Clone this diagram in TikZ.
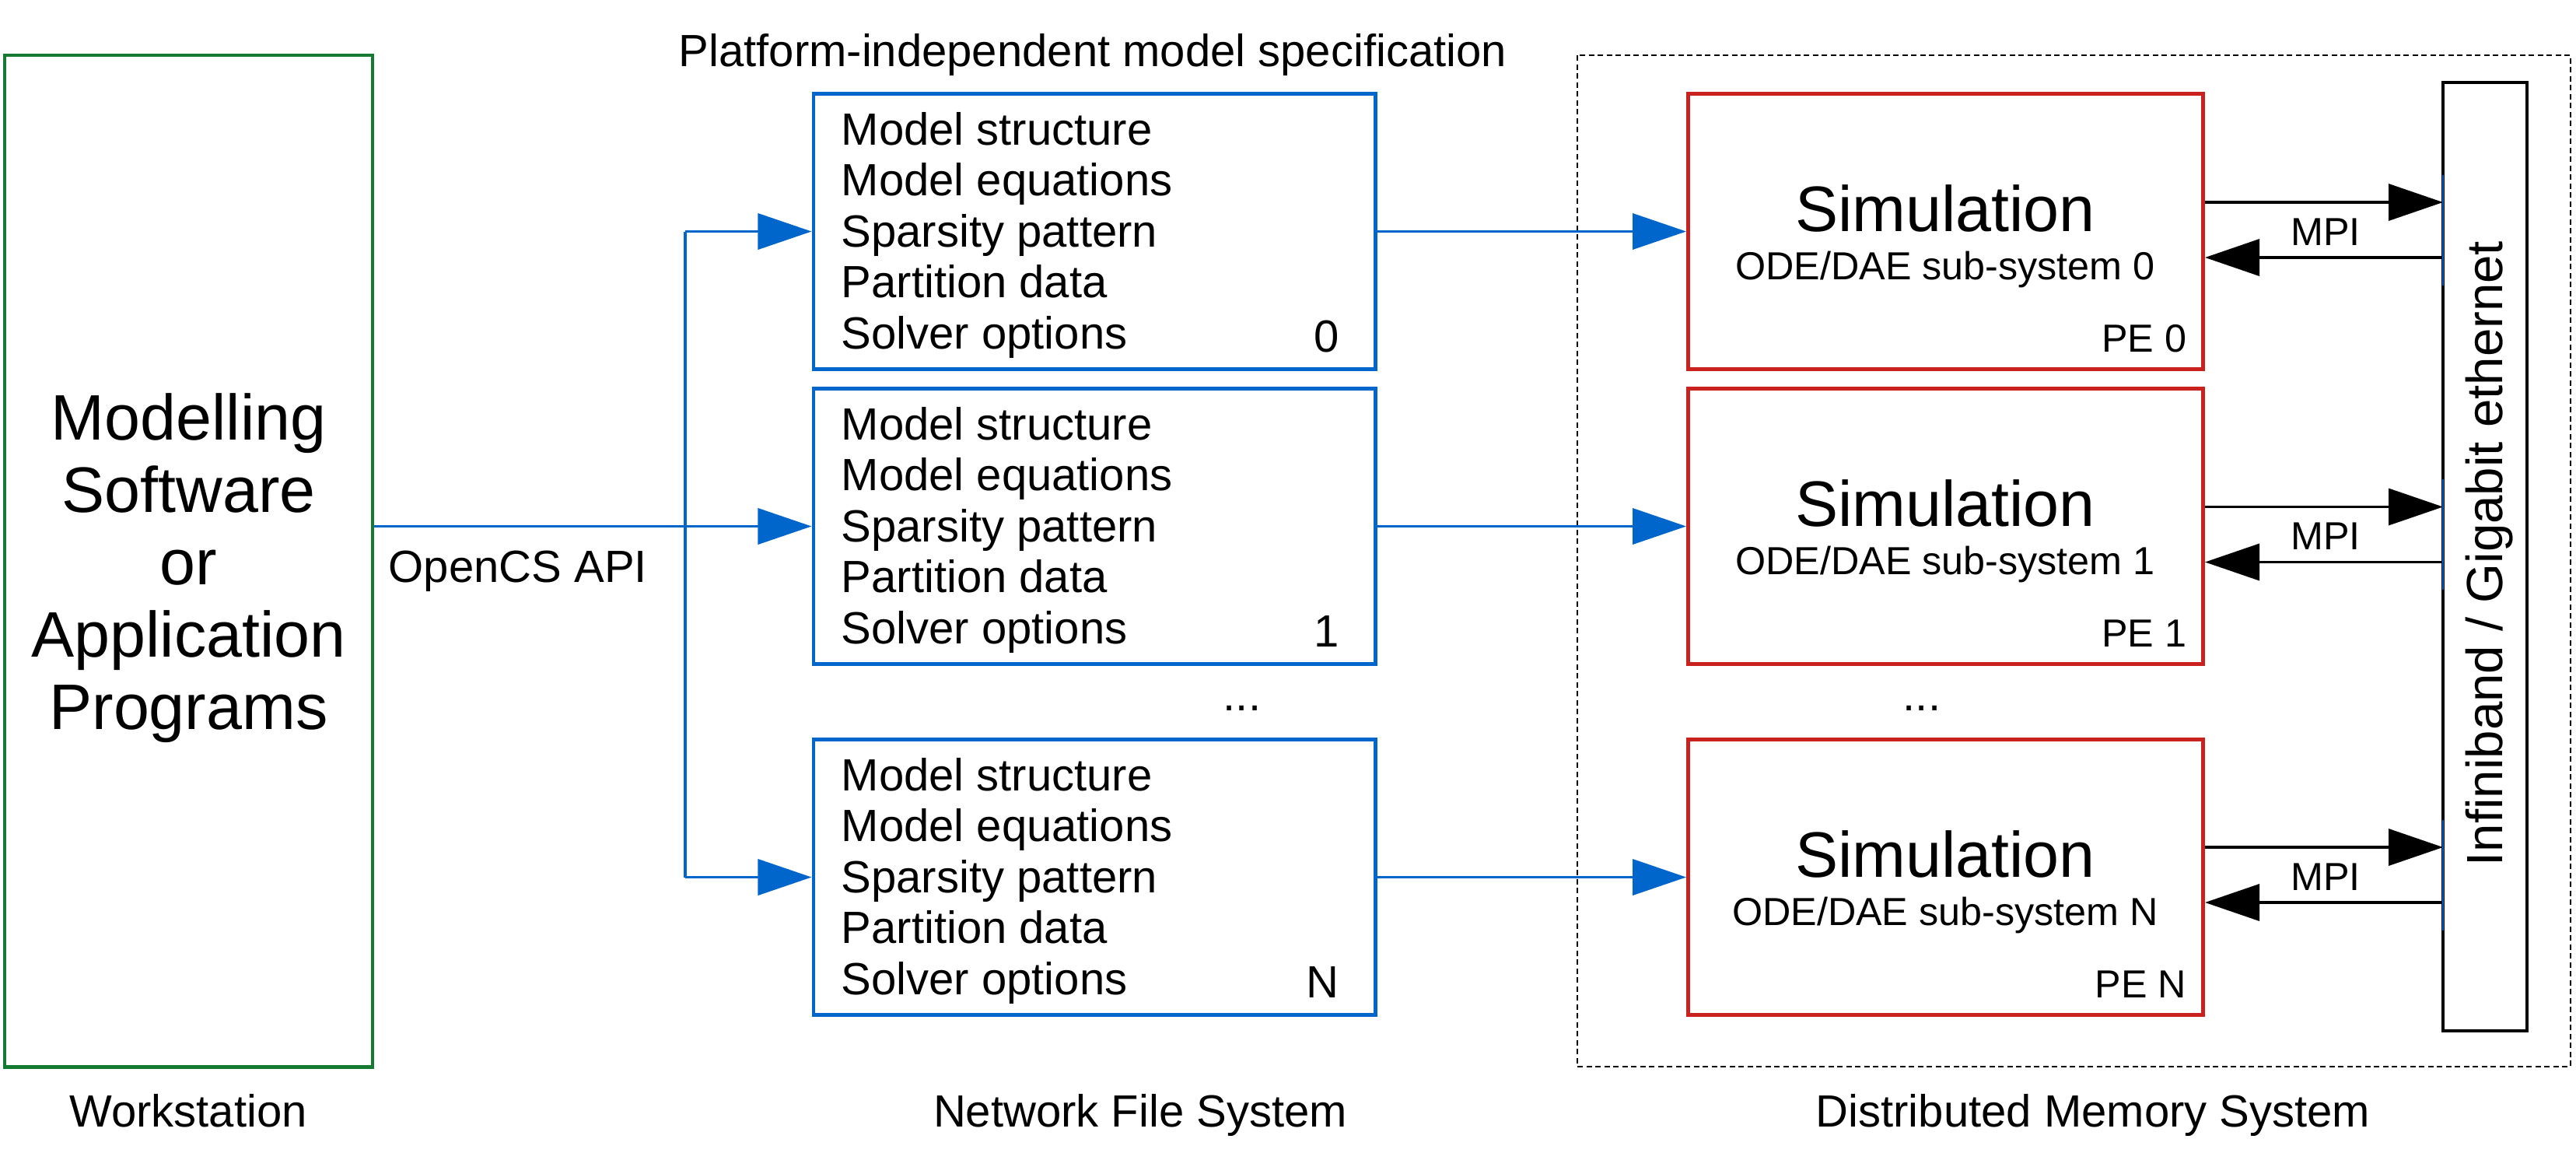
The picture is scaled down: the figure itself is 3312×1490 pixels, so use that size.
\documentclass[tikz,border=0pt]{standalone}
\usepackage{fontspec}
\setmainfont{Liberation Sans}
\usetikzlibrary{arrows.meta}
\definecolor{wsgreen}{RGB}{20,122,50}
\definecolor{nfsblue}{RGB}{0,102,204}
\definecolor{pered}{RGB}{201,33,30}
\begin{document}
\begin{tikzpicture}[x=0.01cm,y=-0.01cm]
        \tikzstyle{station}=[draw=wsgreen,line width=1.2pt,minimum width=4.73cm,minimum height=13cm,inner sep=0]
        \tikzstyle{spec}=[draw=nfsblue,line width=1.3pt,minimum width=7.22cm,minimum height=3.54cm,inner sep=0]
        \tikzstyle{simbox}=[draw=pered,line width=1.3pt,minimum width=6.62cm,minimum height=3.54cm,inner sep=0]
        \tikzstyle{bus}=[draw=black,line width=1.1pt,minimum width=1.08cm,minimum height=12.19cm,inner sep=0]
        \tikzstyle{textlabel}=[inner sep=0,font=\fontsize{16.5}{18.64}\selectfont]
        \tikzstyle{bigtext}=[inner sep=0,font=\fontsize{23.5}{26.46}\selectfont]
        \tikzstyle{smalltext}=[inner sep=0,font=\fontsize{14.3}{17}\selectfont]
        \tikzstyle{flow}=[draw=nfsblue,line width=1.05pt,-{Triangle[length=0.69cm,width=0.46cm]}]
        \tikzstyle{msg}=[draw=black,line width=1pt,-{Triangle[length=0.70cm,width=0.47cm]}]
        \tikzstyle{port}=[draw=nfsblue,line width=0.7pt]
        \useasboundingbox (0,0) rectangle (3312,1490);
        \draw[black,line width=0.75pt,dash pattern=on 0.07cm off 0.045cm] (2028,71) rectangle (3305,1371);
        \node [station] (ws) at (242.5,721) {};
        \node [bigtext,anchor=north,align=center] (app) at (242.5,505) {Modelling\\Software\\or\\Application\\Programs};
        \node [textlabel,anchor=base west] (api) at (499,748) {OpenCS API};
        \node [textlabel,anchor=base west] (pims) at (872,85) {Platform-independent model specification};
        \node [spec] (f0) at (1407,297.5) {};
        \node [spec] (f1) at (1407,676.5) {};
        \node [spec] (fN) at (1407,1127.5) {};
        \node [textlabel,anchor=north west,align=left] (l0) at (1081,143.5) {Model structure\\Model equations\\Sparsity pattern\\Partition data\\Solver options};
        \node [textlabel,anchor=north west,align=left] (l1) at (1081,522.5) {Model structure\\Model equations\\Sparsity pattern\\Partition data\\Solver options};
        \node [textlabel,anchor=north west,align=left] (lN) at (1081,973.5) {Model structure\\Model equations\\Sparsity pattern\\Partition data\\Solver options};
        \node [textlabel,anchor=base east] (i0) at (1722,452.5) {0};
        \node [textlabel,anchor=base east] (i1) at (1722,831.5) {1};
        \node [textlabel,anchor=base east] (iN) at (1722,1282.5) {N};
        \node [textlabel,anchor=base] (fdots) at (1597,913) {...};
        \node [simbox] (s0) at (2501.5,297.5) {};
        \node [simbox] (s1) at (2501.5,676.5) {};
        \node [simbox] (sN) at (2501.5,1127.5) {};
        \node [bigtext,anchor=base] (t0) at (2501,297.5) {Simulation};
        \node [bigtext,anchor=base] (t1) at (2501,676.5) {Simulation};
        \node [bigtext,anchor=base] (tN) at (2501,1127.5) {Simulation};
        \node [smalltext,anchor=base] (o0) at (2501,359.5) {ODE/DAE sub-system 0};
        \node [smalltext,anchor=base] (o1) at (2501,738.5) {ODE/DAE sub-system 1};
        \node [smalltext,anchor=base] (oN) at (2501,1189.5) {ODE/DAE sub-system N};
        \node [smalltext,anchor=base east] (pe0) at (2812,452.5) {PE 0};
        \node [smalltext,anchor=base east] (pe1) at (2812,831.5) {PE 1};
        \node [smalltext,anchor=base east] (peN) at (2812,1282.5) {PE N};
        \node [textlabel,anchor=base] (sdots) at (2471,913) {...};
        \node [bus] (bar) at (3195,715.5) {};
        \node [inner sep=0,font=\fontsize{18.6}{22}\selectfont,rotate=90,anchor=base] (net) at (3217,711.5) {Infiniband / Gigabit ethernet};
        \node [textlabel,anchor=base] (wslab) at (242,1448) {Workstation};
        \node [textlabel,anchor=base] (nfslab) at (1466,1448) {Network File System};
        \node [textlabel,anchor=base] (dmslab) at (2691,1448) {Distributed Memory System};
        \coordinate (split) at (881,676.5);
        \path[flow] (ws.east |- f1.west) -- (f1.west);
        \path[draw=nfsblue,line width=1.05pt] (split |- f0.west) -- (split |- fN.west);
        \path[flow] (split |- f0.west) -- (f0.west);
        \path[flow] (split |- fN.west) -- (fN.west);
        \path[flow] (f0) -- (s0);
        \path[flow] (f1) -- (s1);
        \path[flow] (fN) -- (sN);
        \coordinate (u0) at (3141,260);
        \coordinate (d0) at (3141,331);
        \coordinate (u1) at (3141,651.5);
        \coordinate (d1) at (3141,722.5);
        \coordinate (uN) at (3141,1089);
        \coordinate (dN) at (3141,1160);
        \path[msg] (s0.east |- u0) -- (u0);
        \path[msg] (d0) -- (s0.east |- d0);
        \path[msg] (s1.east |- u1) -- (u1);
        \path[msg] (d1) -- (s1.east |- d1);
        \path[msg] (sN.east |- uN) -- (uN);
        \path[msg] (dN) -- (sN.east |- dN);
        \path[port] (u0) ++(0,-35.5) -- ++(0,142);
        \path[port] (u1) ++(0,-35.5) -- ++(0,142);
        \path[port] (uN) ++(0,-35.5) -- ++(0,142);
        \node [smalltext,anchor=base] (mpi0) at (2990,315) {MPI};
        \node [smalltext,anchor=base] (mpi1) at (2990,706.5) {MPI};
        \node [smalltext,anchor=base] (mpiN) at (2990,1144) {MPI};
\end{tikzpicture}
\end{document}
